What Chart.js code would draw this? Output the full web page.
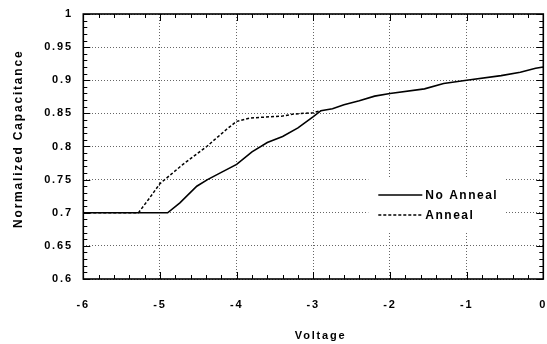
<!DOCTYPE html>
<html>
<head>
<meta charset="utf-8">
<script src="https://cdn.jsdelivr.net/npm/chart.js@4.4.1/dist/chart.umd.min.js"></script>
<style>
  html, body { margin: 0; padding: 0; background: #fff; }
  #wrap { width: 547px; height: 344px; }
</style>
</head>
<body>
<div id="wrap"><canvas id="chart" width="547" height="344"></canvas></div>
<script>
// data
const noAnnealV = [-6, -4.9, -4.74, -4.52, -4.38, -4.2, -4.0, -3.8, -3.6, -3.4, -3.2, -3.0, -2.9, -2.75, -2.6, -2.4, -2.2, -2.0, -1.55, -1.3, -1.0, -0.55, -0.3, -0.1, 0];
const noAnnealC = [0.7, 0.7, 0.715, 0.74, 0.75, 0.761, 0.773, 0.792, 0.806, 0.815, 0.828, 0.845, 0.854, 0.857, 0.863, 0.869, 0.876, 0.88, 0.887, 0.895, 0.9, 0.907, 0.912, 0.918, 0.92];
const annealV = [-6, -5.28, -5.15, -5.0, -4.7, -4.39, -4.13, -4.0, -3.82, -3.4, -3.25, -3.0, -2.9];
const annealC = [0.7, 0.7, 0.72, 0.744, 0.773, 0.8, 0.826, 0.838, 0.843, 0.846, 0.849, 0.851, 0.854];
const seriesNames = ['No Anneal', 'Anneal'];
const xTicks = [-6, -5, -4, -3, -2, -1, 0];
const yTicks = [0.6, 0.65, 0.7, 0.75, 0.8, 0.85, 0.9, 0.95, 1];

const toPoints = (xs, ys) => xs.map((x, i) => ({ x: x, y: ys[i] }));
const FONT = 'Liberation Sans, Arial, sans-serif';

// no extra room for the edge labels, the plot box is fixed
const noPad = (scale) => {
  scale.paddingLeft = 0;
  scale.paddingRight = 0;
  scale.paddingTop = 0;
  scale.paddingBottom = 0;
};

// letter spaced text like the original
const spacingPlugin = {
  id: 'spacing',
  beforeDraw: (chart) => {
    chart.ctx.letterSpacing = '1.8px';
  },
};

// white box behind legend, covers grid
const legendBoxPlugin = {
  id: 'legendBox',
  beforeDatasetsDraw: (chart) => {
    const { ctx, chartArea } = chart;
    ctx.save();
    ctx.fillStyle = '#fff';
    ctx.fillRect(chartArea.right - 175, chartArea.top + 163, 136, 55);
    ctx.restore();
  },
  afterDraw: (chart) => {
    const { ctx, chartArea } = chart;
    const x0 = chartArea.right - 165;
    const y0 = chartArea.top + 181;
    ctx.save();
    ctx.letterSpacing = '1.5px';
    ctx.font = 'bold 12px ' + FONT;
    ctx.fillStyle = '#000';
    ctx.textBaseline = 'middle';
    chart.data.datasets.forEach((ds, i) => {
      const y = y0 + i * 20;
      ctx.strokeStyle = '#000';
      ctx.lineWidth = ds.borderWidth;
      ctx.setLineDash(ds.borderDash || []);
      ctx.beginPath();
      ctx.moveTo(x0, y);
      ctx.lineTo(x0 + 44, y);
      ctx.stroke();
      ctx.fillText(ds.label, x0 + 47, y + 1);
    });
    ctx.restore();
  },
};

// frame and inward ticks on all four sides
const frameTicksPlugin = {
  id: 'frameTicks',
  afterDraw: (chart) => {
    const { ctx, chartArea: a, scales } = chart;
    const xs = scales.x;
    const ys = scales.y;
    ctx.save();
    ctx.strokeStyle = '#000';
    ctx.setLineDash([]);
    ctx.lineWidth = 1;
    ctx.beginPath();
    for (let k = 0; k <= 30; k += 1) {
      const v = xs.min + k * 0.2;
      const px = Math.round(xs.getPixelForValue(v)) + 0.5;
      const len = k % 5 === 0 ? 7 : 4;
      ctx.moveTo(px, a.bottom);
      ctx.lineTo(px, a.bottom - len);
      ctx.moveTo(px, a.top);
      ctx.lineTo(px, a.top + len);
    }
    for (let k = 0; k <= 40; k += 1) {
      const v = ys.min + k * 0.01;
      const py = Math.round(ys.getPixelForValue(v)) + 0.5;
      const len = k % 5 === 0 ? 7 : 4;
      ctx.moveTo(a.left, py);
      ctx.lineTo(a.left + len, py);
      ctx.moveTo(a.right, py);
      ctx.lineTo(a.right - len, py);
    }
    ctx.stroke();
    ctx.lineWidth = 1.6;
    ctx.strokeRect(a.left, a.top, a.right - a.left, a.bottom - a.top);
    ctx.restore();
  },
};

const data = {
  datasets: [
    {
      label: seriesNames[0],
      data: toPoints(noAnnealV, noAnnealC),
      borderColor: '#000',
      borderWidth: 1.6,
      pointRadius: 0,
      showLine: true,
      fill: false,
      tension: 0,
      order: 1,
    },
    {
      label: seriesNames[1],
      data: toPoints(annealV, annealC),
      borderColor: '#000',
      borderWidth: 1.5,
      borderDash: [3, 2],
      pointRadius: 0,
      showLine: true,
      fill: false,
      tension: 0,
      order: 2,
    },
  ],
};

const config = {
  type: 'scatter',
  data,
  plugins: [spacingPlugin, legendBoxPlugin, frameTicksPlugin],
  options: {
    responsive: false,
    animation: false,
    layout: { padding: { left: 0, right: 3.7, top: 14, bottom: 0 } },
    plugins: {
      legend: { display: false },
      tooltip: { enabled: false },
    },
    scales: {
      x: {
        type: 'linear',
        min: -6,
        max: 0,
        afterBuildTicks: (scale) => { scale.ticks = xTicks.map((v) => ({ value: v })); },
        afterFit: (scale) => { scale.height = 65; noPad(scale); },
        ticks: {
          padding: 19,
          maxRotation: 0,
          color: '#000',
          font: { family: FONT, size: 11, weight: 'bold' },
          callback: (v) => String(v),
        },
        grid: { color: '#666', lineWidth: 1, drawTicks: false },
        border: { display: false, dash: [1, 2] },
        title: {
          display: true,
          // leading spaces push the word a little right, as in the original
          text: '   Voltage',
          color: '#000',
          font: { family: FONT, size: 11, weight: 'bold' },
          padding: { top: 0, bottom: 1.5 },
        },
      },
      y: {
        type: 'linear',
        min: 0.6,
        max: 1,
        afterBuildTicks: (scale) => { scale.ticks = yTicks.map((v) => ({ value: v })); },
        afterFit: (scale) => { scale.width = 83.3; noPad(scale); },
        ticks: {
          padding: 10.5,
          color: '#000',
          font: { family: FONT, size: 11, weight: 'bold' },
          callback: (v) => String(Number(v.toFixed(2))),
        },
        grid: { color: '#666', lineWidth: 1, drawTicks: false },
        border: { display: false, dash: [1, 2] },
        title: {
          display: true,
          text: '   Normalized Capacitance',
          color: '#000',
          font: { family: FONT, size: 12, weight: 'bold' },
          padding: { top: 11.3, bottom: 0 },
        },
      },
    },
  },
};

new Chart(document.getElementById('chart'), config);
</script>
</body>
</html>
